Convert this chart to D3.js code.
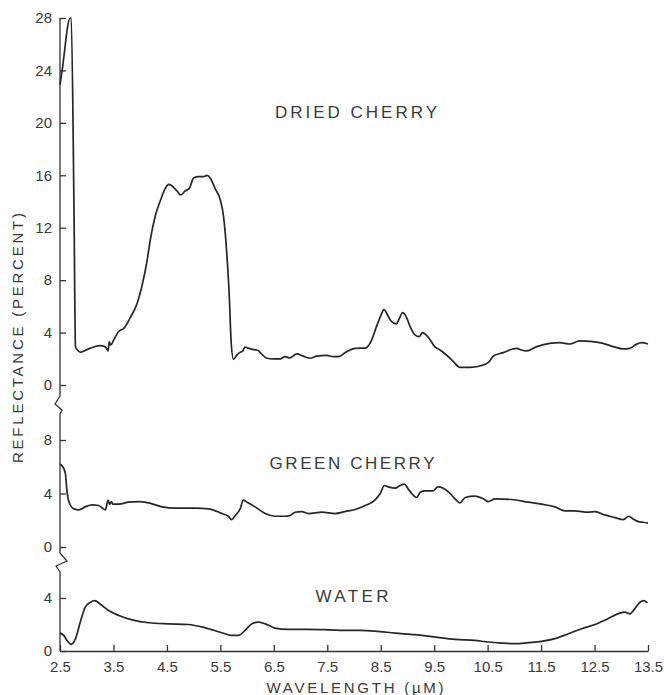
<!DOCTYPE html>
<html>
<head>
<meta charset="utf-8">
<script src="https://cdn.jsdelivr.net/npm/d3@7"></script>
<style>
  html, body { margin: 0; padding: 0; background: #fff; }
  svg { display: block; }
  text { font-family: "Liberation Sans", "DejaVu Sans", sans-serif; fill: #3a3a3a; }
</style>
</head>
<body>
<svg id="chart" width="664" height="695"></svg>
<script>
// ---- data ----
const xTicks = [2.5, 3.5, 4.5, 5.5, 6.5, 7.5, 8.5, 9.5, 10.5, 11.5, 12.5, 13.5];
const topTicks = [0, 4, 8, 12, 16, 20, 24, 28];
const midTicks = [0, 4, 8];
const botTicks = [0, 4];
const panelLabels = ["DRIED CHERRY", "GREEN CHERRY", "WATER"];

const driedWl = [2.50,2.54,2.69,2.71,2.76,2.79,2.82,2.88,3.00,3.13,3.25,3.35,3.40,3.42,3.45,3.50,3.60,3.69,3.81,3.94,4.03,4.13,4.19,4.28,4.38,4.47,4.53,4.59,4.69,4.76,4.84,4.92,5.00,5.09,5.19,5.25,5.31,5.40,5.50,5.56,5.62,5.67,5.70,5.745,5.81,5.86,5.92,5.96,6.03,6.12,6.19,6.27,6.37,6.49,6.62,6.71,6.80,6.93,7.05,7.18,7.30,7.49,7.61,7.71,7.86,8.02,8.21,8.33,8.42,8.52,8.56,8.61,8.69,8.79,8.85,8.91,8.97,9.05,9.14,9.22,9.28,9.39,9.51,9.61,9.73,9.86,9.98,10.17,10.42,10.51,10.61,10.79,11.04,11.13,11.23,11.42,11.66,11.85,12.04,12.22,12.47,12.66,12.85,13.03,13.16,13.28,13.38,13.50];
const driedR  = [22.9,24.0,28.0,28.0,14.1,2.9,2.7,2.5,2.7,2.9,3.0,2.9,2.6,3.3,3.05,3.4,4.1,4.3,5.1,6.2,7.5,9.5,11.1,12.85,14.1,15.0,15.3,15.2,14.8,14.5,14.8,15.0,15.8,15.9,15.9,16.0,15.8,15.0,14.1,12.85,10.05,6.5,3.4,1.96,2.3,2.47,2.6,2.9,2.8,2.7,2.67,2.37,2.04,2.0,2.0,2.16,2.06,2.37,2.2,2.04,2.2,2.26,2.16,2.16,2.54,2.8,2.82,3.43,4.45,5.47,5.78,5.47,4.9,4.66,5.09,5.52,5.27,4.45,3.82,3.69,4.0,3.64,2.93,2.67,2.29,1.78,1.35,1.35,1.53,1.7,2.21,2.47,2.8,2.67,2.6,2.93,3.18,3.23,3.13,3.36,3.31,3.18,2.93,2.75,2.8,3.1,3.23,3.13];

const greenWl = [2.50,2.55,2.60,2.63,2.67,2.76,2.85,2.97,3.10,3.22,3.35,3.40,3.43,3.46,3.49,3.60,3.78,3.97,4.16,4.41,4.66,5.03,5.28,5.53,5.65,5.71,5.78,5.87,5.93,6.00,6.15,6.34,6.52,6.71,6.80,6.90,7.02,7.15,7.40,7.65,7.83,8.02,8.21,8.39,8.49,8.57,8.64,8.77,8.86,8.94,9.02,9.08,9.17,9.24,9.33,9.48,9.57,9.67,9.80,9.89,9.98,10.08,10.26,10.42,10.51,10.64,10.95,11.26,11.51,11.76,11.95,12.13,12.38,12.51,12.69,12.88,13.04,13.14,13.22,13.32,13.41,13.50];
const greenR  = [6.2,6.0,5.5,4.2,3.35,2.85,2.78,3.0,3.15,3.1,2.78,3.5,3.2,3.4,3.2,3.2,3.35,3.4,3.3,3.0,2.9,2.9,2.85,2.5,2.3,2.05,2.35,2.85,3.5,3.35,3.0,2.5,2.3,2.3,2.35,2.6,2.65,2.5,2.6,2.5,2.65,2.8,3.1,3.5,4.0,4.6,4.5,4.4,4.6,4.7,4.3,4.0,3.7,4.1,4.2,4.2,4.5,4.4,4.0,3.6,3.3,3.7,3.8,3.6,3.4,3.6,3.55,3.35,3.2,3.0,2.7,2.7,2.6,2.65,2.4,2.2,2.05,2.3,2.1,1.9,1.85,1.78];

const waterWl = [2.50,2.57,2.63,2.71,2.79,2.88,2.97,3.07,3.15,3.25,3.41,3.60,3.85,4.16,4.53,4.90,5.22,5.53,5.71,5.84,5.96,6.09,6.21,6.34,6.52,6.77,7.15,7.52,7.90,8.11,8.39,8.77,9.14,9.52,9.89,10.26,10.51,10.76,11.01,11.26,11.51,11.76,12.01,12.26,12.51,12.75,12.97,13.07,13.16,13.25,13.35,13.41,13.49];
const waterR  = [1.35,1.18,0.8,0.5,0.93,2.18,3.3,3.68,3.8,3.55,3.05,2.68,2.35,2.13,2.05,2.0,1.75,1.38,1.18,1.18,1.55,2.05,2.18,2.05,1.73,1.63,1.63,1.6,1.55,1.55,1.5,1.35,1.23,1.05,0.88,0.8,0.68,0.6,0.55,0.63,0.73,0.93,1.3,1.68,2.0,2.43,2.86,2.93,2.8,3.18,3.68,3.8,3.63];

// ---- layout ----
const svg = d3.select("#chart");
const axX = 60;
const x = d3.scaleLinear().domain([2.5, 13.5]).range([60, 648]);
const yTop = d3.scaleLinear().domain([0, 28]).range([385, 18]);
const yMid = d3.scaleLinear().domain([0, 8]).range([547, 440]);
const yBot = d3.scaleLinear().domain([0, 4]).range([651, 598]);

const axisColor = "#333";

function yAxis(scale, ticks) {
  const g = svg.append("g").attr("transform", `translate(${axX},0)`)
    .call(d3.axisLeft(scale).tickValues(ticks).tickSizeInner(-6).tickSizeOuter(0).tickPadding(8).tickFormat(d3.format("d")));
  g.select(".domain").remove();
  g.selectAll(".tick line").attr("stroke", axisColor).attr("stroke-width", 1.3);
  g.selectAll(".tick text").attr("font-size", 15).attr("fill", "#3a3a3a")
    .style("font-family", "'Liberation Sans', sans-serif");
  return g;
}
yAxis(yTop, topTicks);
yAxis(yMid, midTicks);
yAxis(yBot, botTicks);

// vertical axis line with breaks
const axisPath = d3.path();
axisPath.moveTo(axX, yTop(28));
axisPath.lineTo(axX, 396);
axisPath.lineTo(55, 404);
axisPath.lineTo(62, 410);
axisPath.lineTo(axX, 414);
axisPath.lineTo(axX, 553);
axisPath.lineTo(67, 561);
axisPath.lineTo(56, 566);
axisPath.lineTo(axX, 572);
axisPath.lineTo(axX, yBot(0));
svg.append("path").attr("d", axisPath.toString()).attr("fill", "none")
  .attr("stroke", axisColor).attr("stroke-width", 1.3).attr("stroke-linejoin", "round");

// x axis
const gx = svg.append("g").attr("transform", `translate(0,${yBot(0)})`)
  .call(d3.axisBottom(x).tickValues(xTicks).tickSizeInner(-6).tickSizeOuter(0).tickPadding(10).tickFormat(d3.format(".1f")));
gx.select(".domain").attr("stroke", axisColor).attr("stroke-width", 1.3);
gx.selectAll(".tick line").attr("stroke", axisColor).attr("stroke-width", 1.3);
gx.selectAll(".tick text").attr("font-size", 15).attr("fill", "#3a3a3a")
  .style("font-family", "'Liberation Sans', sans-serif");

// series
function series(wl, r, yScale) {
  const pts = wl.map((w, i) => [w, r[i]]);
  const line = d3.line().x(d => x(d[0])).y(d => yScale(d[1])).curve(d3.curveMonotoneX);
  svg.append("path").datum(pts).attr("d", line).attr("fill", "none")
    .attr("stroke", "#262626").attr("stroke-width", 1.7).attr("stroke-linejoin", "round");
}
series(driedWl, driedR, yTop);
series(greenWl, greenR, yMid);
series(waterWl, waterR, yBot);

// panel labels
const labelPos = [
  { x: 356, y: 118, len: 162 },
  { x: 352, y: 469, len: 165 },
  { x: 352, y: 602, len: 73 }
];
panelLabels.forEach((t, i) => {
  svg.append("text").attr("x", labelPos[i].x).attr("y", labelPos[i].y)
    .attr("text-anchor", "middle").attr("font-size", 17)
    .attr("textLength", labelPos[i].len).attr("lengthAdjust", "spacing")
    .text(t);
});

// axis titles
svg.append("text").attr("transform", "translate(23,338) rotate(-90)")
  .attr("text-anchor", "middle").attr("font-size", 15)
  .attr("textLength", 250).attr("lengthAdjust", "spacing")
  .text("REFLECTANCE (PERCENT)");
svg.append("text").attr("x", 355).attr("y", 693)
  .attr("text-anchor", "middle").attr("font-size", 15)
  .attr("textLength", 177).attr("lengthAdjust", "spacing")
  .text("WAVELENGTH (µM)");
</script>
</body>
</html>
